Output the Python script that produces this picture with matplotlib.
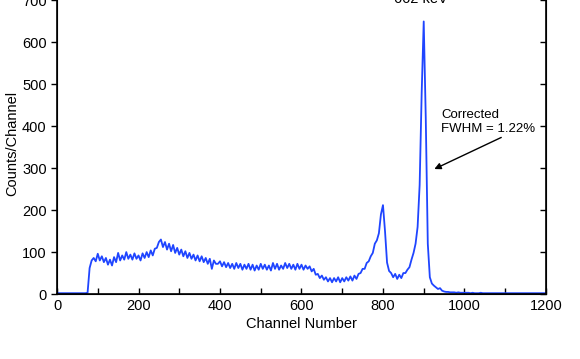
import numpy as np
import matplotlib
matplotlib.use('Agg')
import matplotlib.pyplot as plt

# channel numbers, every 5 channels
channels = np.arange(0, 1201, 5)

# counts (blocks of 100 channels)
counts = [
    3, 2, 2, 2, 2, 2, 2, 2, 2, 2, 2, 2, 2, 2, 2, 3, 62, 80, 86, 78,
    96, 80, 90, 76, 86, 70, 82, 68, 88, 76, 98, 80, 92, 82, 100, 84, 94, 82, 97, 84,
    92, 80, 97, 86, 100, 88, 104, 92, 108, 110, 124, 130, 112, 124, 106, 120, 102, 117, 98, 110,
    94, 106, 90, 102, 86, 98, 84, 94, 80, 92, 78, 90, 76, 86, 72, 84, 60, 80, 72, 72,
    78, 66, 76, 64, 74, 62, 72, 60, 74, 62, 72, 58, 70, 60, 72, 58, 70, 56, 68, 58,
    72, 60, 70, 58, 68, 56, 74, 60, 72, 58, 68, 60, 74, 62, 72, 60, 70, 58, 72, 60,
    70, 58, 68, 60, 66, 54, 60, 46, 48, 38, 44, 34, 40, 30, 38, 28, 38, 30, 40, 28,
    38, 30, 40, 32, 42, 32, 44, 36, 48, 50, 60, 60, 74, 78, 90, 98, 120, 128, 145, 190,
    212, 150, 75, 55, 50, 40, 48, 36, 46, 38, 50, 50, 58, 64, 82, 98, 120, 160, 260, 480,
    650, 420, 120, 40, 25, 20, 16, 12, 14, 8, 6, 5, 5, 4, 4, 4, 3, 4, 3, 3,
    3, 3, 3, 2, 3, 2, 2, 2, 3, 2, 2, 2, 2, 2, 2, 2, 2, 2, 2, 2,
    2, 2, 2, 2, 2, 2, 2, 2, 2, 2, 2, 2, 2, 2, 2, 2, 2, 2, 2, 2,
    2,
]

x_ticks = [0, 200, 400, 600, 800, 1000, 1200]
y_ticks = [0, 100, 200, 300, 400, 500, 600, 700]

plt.rcParams['font.family'] = ['Liberation Sans', 'DejaVu Sans']
plt.rcParams['font.size'] = 10.5

fig = plt.figure(figsize=(5.8, 3.59), dpi=100)
ax = fig.add_axes([0.0983, 0.181, 0.843, 0.841])

ax.plot(channels, counts, color='#1f45ff', lw=1.3)

ax.set_xlim(0, 1200)
ax.set_ylim(0, 720)
ax.set_xticks(x_ticks)
ax.set_xticks(np.arange(100, 1200, 200), minor=True)
ax.set_yticks(y_ticks)
ax.tick_params(axis='x', which='both', direction='in', length=4, width=1)
ax.tick_params(axis='y', direction='out', length=4, width=1)
for s in ax.spines.values():
    s.set_linewidth(1.2)

# right side ticks point inwards
ax2 = ax.twinx()
ax2.set_ylim(0, 720)
ax2.set_yticks(y_ticks)
ax2.tick_params(axis='y', direction='in', length=4, width=1, labelright=False)

ax.set_xlabel('Channel Number', labelpad=3)
ax.set_ylabel('Counts/Channel', labelpad=2)

ax.text(892, 695, '662 keV', ha='center', va='baseline', clip_on=False)
ax.annotate('Corrected\nFWHM = 1.22%', xy=(926, 298), xytext=(943, 380),
            fontsize=9.5, ha='left', va='bottom',
            arrowprops=dict(arrowstyle='-|>', color='black', lw=1,
                            shrinkA=0, shrinkB=0, relpos=(0.7, 0)))

fig.savefig('out.png', dpi=100)
